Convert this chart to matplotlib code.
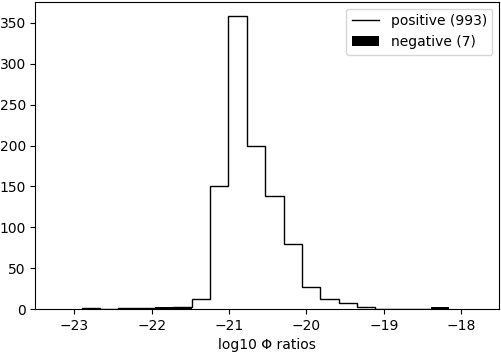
import numpy as np
import matplotlib
matplotlib.use("Agg")
import matplotlib.pyplot as plt

# Histogram bin range (log10 of Phi ratios) and counts
bin_lo = -22.905
bin_hi = -18.161
n_bins = 20
positive_counts = [1, 0, 1, 1, 1, 2, 12, 150, 358, 200, 138, 80, 27, 12, 7, 3, 0, 0, 0, 0]
negative_counts = [0, 0, 1, 0, 2, 2, 0, 0, 0, 0, 0, 0, 0, 0, 0, 0, 0, 0, 0, 2]
positive_label = "positive (993)"
negative_label = "negative (7)"
x_label = "log10 \u03a6 ratios"

edges = np.linspace(bin_lo, bin_hi, n_bins + 1)

fig = plt.figure(figsize=(5.02, 3.53), dpi=100)
ax = fig.add_axes([0.0707, 0.1246, 0.9239, 0.8706])

ax.stairs(positive_counts, edges, color="black", linewidth=1.0, label=positive_label)
ax.stairs(negative_counts, edges, fill=True, color="black", label=negative_label)

ax.set_xlim(-23.5, -17.51)
ax.set_ylim(0, 376)
ax.set_xticks([-23, -22, -21, -20, -19, -18])
ax.set_xlabel(x_label)
ax.legend(loc="upper right")

fig.savefig("out.png", dpi=100)
